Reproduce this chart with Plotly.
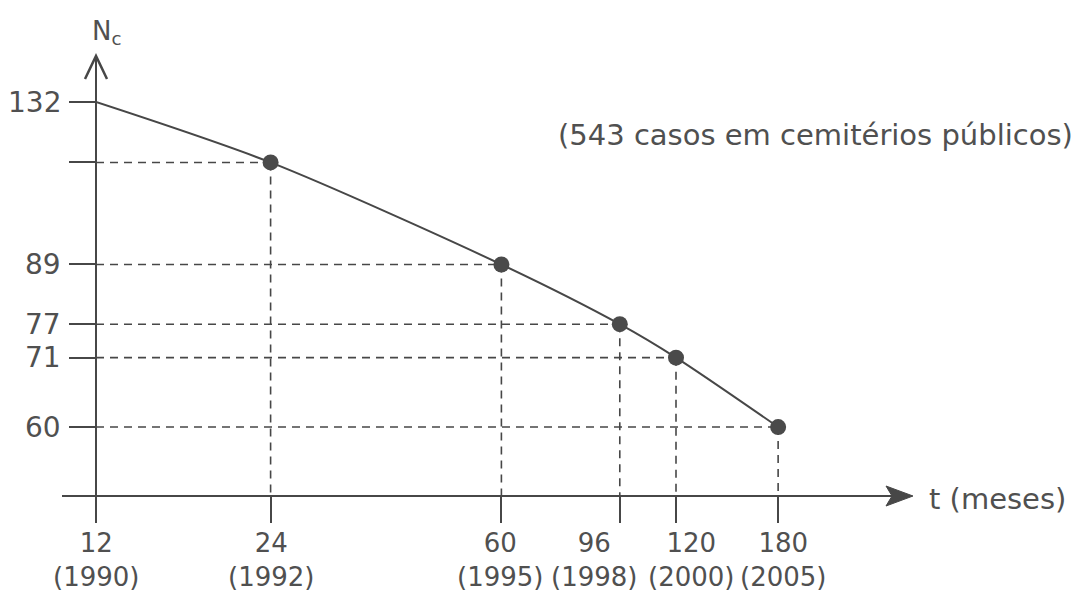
import math
import plotly.graph_objects as go

# ---- data ----
months = [12, 24, 60, 96, 120, 180]                      # t (meses)
years = ["1990", "1992", "1995", "1998", "2000", "2005"]  # year under each month
n_cases = [132, 114, 89, 77, 71, 60]                      # N_c  (sum = 543)
y_tick_text = ["132", "", "89", "77", "71", "60"]
note = "(543 casos em cemitérios públicos)"

INK = "#474747"
TEXT = "#505050"
FONT = "DejaVu Sans"

# ---- layout geometry ----
# the page has an 8px body margin, so the figure is 8px smaller than the window
OFF = 8
W, H = 1086 - OFF, 591 - OFF
L_M, B_M = 88, 95
PW, PH = W - L_M, H - B_M


def px(x_page):
    return (x_page - OFF - L_M) / PW


def py(y_page):
    return (PH - (y_page - OFF)) / PH


# schematic axis windows on log scales
x_range = [math.log10(12), math.log10(12) + PW / 580]
y_range = [1.7055, 2.2196]
y_floor = 10 ** y_range[0]
label_nudge = [0, 0, -1, -26, 15, 5]   # keeps the crowded month labels apart

# dashed guides: from the N axis to each point, then down to the t axis
gx, gy = [], []
for m, n in zip(months[1:], n_cases[1:]):
    gx += [months[0], m, None, m, m, None]
    gy += [n, n, None, n, y_floor, None]

fig = go.Figure()
fig.add_trace(go.Scatter(
    x=gx, y=gy, mode="lines",
    line=dict(color=INK, width=1.6, dash="8px,6px"),
    cliponaxis=False, hoverinfo="skip"))
fig.add_trace(go.Scatter(
    x=months, y=n_cases, mode="lines+markers",
    line=dict(color=INK, width=2, shape="spline", smoothing=0.8),
    marker=dict(size=16, color="#4a4a4a"),
    cliponaxis=False))

annotations = []
for m, yr, dx in zip(months, years, label_nudge):
    annotations.append(dict(
        x=math.log10(m), y=0, xref="x", yref="paper",
        xanchor="center", yanchor="top", xshift=dx, yshift=-30,
        text=f"{m}<br>({yr})", showarrow=False,
        font=dict(family=FONT, size=26, color=TEXT)))
for n, lab in zip(n_cases, y_tick_text):
    if lab:
        annotations.append(dict(
            x=0, y=math.log10(n), xref="paper", yref="y",
            xanchor="right", yanchor="middle", xshift=-33,
            text=lab, showarrow=False,
            font=dict(family=FONT, size=28, color=TEXT)))

annotations += [
    dict(x=px(106), y=py(32), xref="paper", yref="paper",
         xanchor="center", yanchor="middle",
         text="N<sub>c</sub>", showarrow=False,
         font=dict(family=FONT, size=26, color=TEXT)),
    dict(x=px(927), y=py(499), xref="paper", yref="paper",
         xanchor="left", yanchor="middle", text="t (meses)", showarrow=False,
         font=dict(family=FONT, size=29, color=TEXT)),
    dict(x=px(815), y=py(135), xref="paper", yref="paper",
         xanchor="center", yanchor="middle", text=note, showarrow=False,
         font=dict(family=FONT, size=29, color=TEXT)),
]

shapes = [
    # t axis
    dict(type="line", xref="paper", yref="paper",
         x0=px(62), y0=py(496), x1=px(900), y1=py(496),
         line=dict(color=INK, width=2)),
    dict(type="path", xref="paper", yref="paper",
         path=(f"M{px(913)},{py(496)} L{px(886)},{py(486)} "
               f"L{px(892)},{py(496)} L{px(886)},{py(506)} Z"),
         fillcolor=INK, line=dict(color=INK, width=1)),
    # N axis
    dict(type="line", xref="paper", yref="paper",
         x0=px(96), y0=py(522), x1=px(96), y1=py(57),
         line=dict(color=INK, width=2)),
    dict(type="path", xref="paper", yref="paper",
         path=f"M{px(85)},{py(79)} L{px(96)},{py(56)} L{px(107)},{py(79)}",
         line=dict(color=INK, width=2.5)),
]

fig.update_layout(
    width=W, height=H,
    margin=dict(l=L_M, r=0, t=0, b=B_M, pad=0),
    paper_bgcolor="white", plot_bgcolor="white",
    showlegend=False,
    font=dict(family=FONT, color=TEXT, size=27),
    xaxis=dict(
        type="log", range=x_range, automargin=False,
        tickmode="array", tickvals=months, showticklabels=False,
        ticks="outside", ticklen=26, tickwidth=2, tickcolor=INK,
        showgrid=False, zeroline=False, showline=False,
    ),
    yaxis=dict(
        type="log", range=y_range, automargin=False,
        tickmode="array", tickvals=n_cases, showticklabels=False,
        ticks="outside", ticklen=26, tickwidth=2, tickcolor=INK,
        showgrid=False, zeroline=False, showline=False,
    ),
    annotations=annotations,
    shapes=shapes,
)

fig.write_html("out.html")
